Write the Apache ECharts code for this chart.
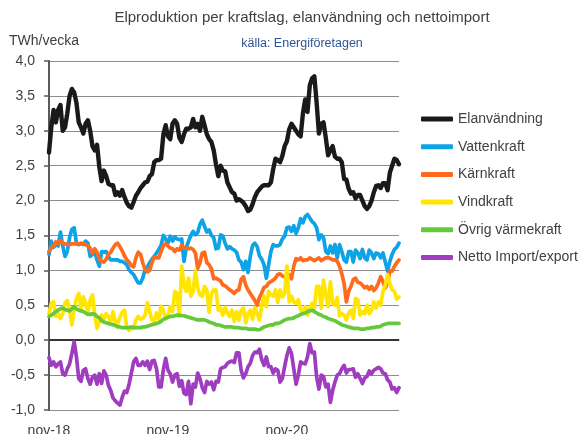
<!DOCTYPE html>
<html><head><meta charset="utf-8">
<script src="https://cdn.jsdelivr.net/npm/echarts@6/dist/echarts.min.js"></script>
<style>html,body{margin:0;padding:0;background:#fff}#c{width:581px;height:434px}</style>
</head><body><div id="c"></div>
<script>
// Weekly values, TWh/vecka, from week 44 2018
const elanvandning = [2.69,3.05,3.30,3.12,3.30,3.37,3.00,3.05,3.25,3.50,3.60,3.55,3.40,3.12,3.05,2.96,3.10,3.15,3.00,2.78,2.72,2.80,2.48,2.28,2.43,2.35,2.24,2.22,2.22,2.08,2.12,2.07,2.15,2.05,1.97,1.92,1.90,1.98,2.07,2.12,2.18,2.22,2.26,2.27,2.35,2.38,2.55,2.58,2.58,2.60,2.95,3.08,2.92,
2.88,3.10,3.15,3.10,2.90,2.84,2.95,3.03,3.03,3.05,3.17,3.05,3.10,3.00,3.20,3.08,2.95,2.88,2.84,2.72,2.52,2.35,2.50,2.43,2.42,2.26,2.19,2.12,2.10,2.00,2.02,2.00,1.97,1.92,1.85,1.87,1.95,2.05,2.12,2.16,2.20,2.22,2.22,2.22,2.26,2.45,2.60,2.58,2.55,2.64,
2.78,2.85,3.02,3.10,3.05,3.00,2.95,2.92,3.25,3.45,3.27,3.65,3.75,3.78,3.40,2.96,3.10,3.12,2.90,2.65,2.72,2.78,2.63,2.60,2.60,2.55,2.31,2.30,2.17,2.10,2.12,2.03,2.08,2.08,2.00,1.92,1.88,1.92,2.00,2.12,2.21,2.22,2.18,2.25,2.25,2.15,2.40,2.50,2.60,2.58,2.52];
const vattenkraft = [1.23,1.42,1.33,1.37,1.35,1.55,1.35,1.20,1.27,1.47,1.59,1.61,1.39,1.37,1.39,1.37,1.42,1.39,1.20,1.23,1.27,1.15,1.06,1.27,1.26,1.27,1.20,1.15,1.15,1.15,1.15,1.13,1.13,1.11,1.08,1.01,0.97,0.94,0.88,0.82,0.82,0.89,1.01,1.05,1.11,1.16,1.20,1.25,1.30,1.36,1.50,1.45,1.39,
1.49,1.42,1.48,1.45,1.44,1.45,1.13,1.32,1.42,1.50,1.56,1.51,1.54,1.66,1.72,1.63,1.55,1.58,1.50,1.47,1.31,1.32,1.51,1.49,1.39,1.31,1.34,1.31,1.29,1.26,1.15,1.12,1.01,1.13,0.97,1.20,1.36,1.39,1.34,1.21,1.16,1.08,0.89,1.08,1.27,1.37,1.35,1.35,1.37,
1.45,1.49,1.61,1.62,1.56,1.64,1.53,1.61,1.74,1.68,1.77,1.80,1.75,1.70,1.67,1.61,1.44,1.51,1.47,1.27,1.24,1.35,1.25,1.37,1.18,1.37,1.27,1.15,1.12,1.27,1.27,1.12,1.29,1.25,1.17,1.30,1.18,1.15,1.29,1.25,1.17,1.25,1.24,1.18,1.25,1.12,0.99,1.13,1.23,1.30,1.33,1.39];
const karnkraft = [1.27,1.32,1.35,1.41,1.38,1.43,1.39,1.38,1.37,1.37,1.38,1.38,1.38,1.38,1.38,1.38,1.37,1.35,1.32,1.25,1.31,1.26,1.16,1.13,1.12,1.16,1.23,1.26,1.32,1.37,1.39,1.34,1.28,1.21,1.15,1.12,1.07,1.05,1.18,1.26,1.23,1.11,1.01,0.98,1.00,1.11,1.19,1.18,1.18,1.27,1.36,1.38,1.35,
1.32,1.31,1.27,1.31,1.29,1.36,1.32,1.32,1.31,1.32,1.30,1.25,1.03,1.11,1.25,1.26,1.11,1.08,1.02,0.88,0.89,0.87,0.85,0.79,0.78,0.75,0.72,0.70,0.67,0.71,0.72,0.87,0.91,0.79,0.72,0.67,0.62,0.57,0.50,0.61,0.68,0.76,0.77,0.82,0.84,0.86,0.89,0.94,0.95,0.92,0.91,0.87,0.94,
0.88,1.06,1.17,1.15,1.18,1.14,1.15,1.15,1.18,1.16,1.14,1.16,1.18,1.14,1.16,1.18,1.18,1.17,1.15,1.15,1.13,1.06,0.95,0.81,0.55,0.70,0.77,0.87,0.89,0.83,0.82,0.79,0.75,0.77,0.73,0.77,0.71,0.75,0.82,0.91,0.84,0.75,0.82,0.99,0.99,1.06,1.11,1.15];
const vindkraft = [0.38,0.53,0.55,0.34,0.38,0.31,0.38,0.53,0.57,0.43,0.22,0.43,0.60,0.67,0.46,0.62,0.53,0.39,0.58,0.65,0.36,0.17,0.26,0.36,0.30,0.38,0.34,0.26,0.41,0.26,0.23,0.33,0.40,0.43,0.19,0.14,0.17,0.17,0.29,0.34,0.30,0.31,0.36,0.54,0.41,0.29,0.26,0.39,0.30,0.49,0.43,0.31,0.35,
0.48,0.41,0.70,0.67,0.34,1.06,0.79,0.70,0.89,0.63,0.70,1.00,0.75,0.65,0.63,0.77,0.72,0.40,0.67,0.72,0.72,0.43,0.46,0.36,0.47,0.39,0.34,0.43,0.27,0.41,0.29,0.43,0.46,0.25,0.38,0.43,0.30,0.47,0.38,0.29,0.50,0.63,0.48,0.70,0.65,0.63,0.72,0.54,0.72,
0.62,0.67,1.06,0.55,0.63,0.55,0.53,0.58,0.43,0.41,0.48,0.36,0.46,0.53,0.46,0.77,0.77,0.46,0.86,0.65,0.48,0.84,0.53,0.50,0.61,0.35,0.38,0.36,0.29,0.39,0.43,0.31,0.60,0.58,0.36,0.41,0.38,0.50,0.38,0.43,0.55,0.46,0.55,0.50,0.70,0.79,0.94,0.82,0.72,0.70,0.59,0.62];
const ovrigVarmekraft = [0.34,0.36,0.38,0.41,0.43,0.45,0.46,0.44,0.43,0.42,0.45,0.48,0.45,0.43,0.42,0.41,0.39,0.37,0.37,0.38,0.37,0.34,0.32,0.28,0.26,0.25,0.24,0.23,0.22,0.21,0.19,0.19,0.18,0.18,0.18,0.18,0.19,0.18,0.18,0.18,0.18,0.19,0.19,0.20,0.21,0.22,0.23,0.24,0.25,0.27,0.30,0.31,0.33,
0.34,0.34,0.35,0.36,0.36,0.35,0.35,0.34,0.33,0.32,0.31,0.30,0.29,0.29,0.29,0.29,0.28,0.26,0.25,0.24,0.22,0.22,0.21,0.20,0.19,0.19,0.19,0.19,0.18,0.18,0.18,0.17,0.17,0.17,0.16,0.16,0.16,0.16,0.15,0.15,0.17,0.19,0.20,0.21,0.22,0.22,0.24,0.24,0.25,0.27,0.29,0.30,0.31,
0.31,0.32,0.34,0.35,0.37,0.38,0.39,0.41,0.42,0.43,0.41,0.39,0.37,0.36,0.34,0.33,0.31,0.30,0.29,0.28,0.26,0.24,0.22,0.21,0.20,0.19,0.18,0.17,0.17,0.17,0.16,0.16,0.16,0.17,0.17,0.18,0.18,0.19,0.19,0.20,0.22,0.23,0.24,0.24,0.24,0.24,0.24,0.24];
const nettoImportExport = [-0.25,-0.36,-0.31,-0.38,-0.34,-0.31,-0.48,-0.50,-0.41,-0.34,-0.19,-0.02,-0.24,-0.55,-0.59,-0.43,-0.41,-0.55,-0.63,-0.53,-0.50,-0.63,-0.48,-0.62,-0.44,-0.50,-0.65,-0.72,-0.83,-0.87,-0.90,-0.93,-0.82,-0.73,-0.75,-0.63,-0.47,-0.31,-0.26,-0.36,-0.36,-0.31,-0.36,-0.30,-0.42,-0.30,-0.29,-0.41,-0.67,-0.67,-0.42,-0.26,-0.43,
-0.48,-0.60,-0.50,-0.48,-0.66,-0.58,-0.76,-0.78,-0.59,-0.91,-0.63,-0.67,-0.47,-0.55,-0.68,-0.75,-0.59,-0.63,-0.60,-0.71,-0.59,-0.60,-0.41,-0.39,-0.38,-0.33,-0.31,-0.30,-0.32,-0.18,-0.18,-0.43,-0.54,-0.48,-0.38,-0.33,-0.22,-0.17,-0.18,-0.13,-0.28,-0.36,-0.24,-0.38,-0.38,-0.47,-0.41,-0.43,-0.60,
-0.55,-0.38,-0.22,-0.11,-0.19,-0.41,-0.63,-0.50,-0.31,-0.33,-0.34,-0.24,-0.05,-0.18,-0.17,-0.53,-0.70,-0.50,-0.52,-0.67,-0.63,-0.89,-0.72,-0.60,-0.50,-0.48,-0.41,-0.36,-0.47,-0.42,-0.42,-0.41,-0.53,-0.48,-0.55,-0.62,-0.54,-0.52,-0.44,-0.48,-0.43,-0.41,-0.39,-0.41,-0.47,-0.48,-0.57,-0.60,-0.70,-0.68,-0.75,-0.68];

const seriesNames = ['Elanvändning','Vattenkraft','Kärnkraft','Vindkraft','Övrig värmekraft','Netto Import/export'];
const xTickLabels = ['nov-18','nov-19','nov-20'];
const xTickIndex = [0, 52, 104];
const weeks = elanvandning.map((_, i) => 'v' + i);

const allData = [elanvandning, vattenkraft, karnkraft, vindkraft, ovrigVarmekraft, nettoImportExport];
const colors = ['#1a1a1a','#0ea2e6','#ff6a1c','#ffe500','#66c93a','#a03cc0'];
const widths = [4.4, 3.7, 3.7, 3.7, 3.7, 3.7];

const chart = echarts.init(document.getElementById('c'), null, {renderer: 'canvas'});
const FONT = '"Liberation Sans", Arial, sans-serif';

const series = allData.map((d, k) => ({
  name: seriesNames[k], type: 'line', data: d, showSymbol: false, symbol: 'none',
  lineStyle: {color: colors[k], width: widths[k], join: 'round', cap: 'round'},
  itemStyle: {color: colors[k]}, z: 3 + k
}));
series[5].markLine = {
  silent: true, symbol: ['none','none'], label: {show: false}, animation: false,
  lineStyle: {color: '#333333', width: 2, type: 'solid'},
  data: [{yAxis: 0}]
};

chart.setOption({
  animation: false,
  backgroundColor: '#ffffff',
  grid: {left: 49, right: 182, top: 61, bottom: 24, containLabel: false, outerBoundsMode: 'none'},
  xAxis: {
    type: 'category', data: weeks, boundaryGap: false,
    axisLine: {show: true, lineStyle: {color: '#8c8c8c', width: 1.5}},
    axisTick: {show: false},
    axisLabel: {
      margin: 14, color: '#404040', fontFamily: FONT, fontSize: 14,
      interval: (idx) => xTickIndex.indexOf(idx) >= 0,
      formatter: (v, idx) => { const p = xTickIndex.indexOf(idx); return p >= 0 ? xTickLabels[p] : ''; }
    },
    splitLine: {show: false}
  },
  yAxis: {
    type: 'value', min: -1, max: 4, interval: 0.5,
    axisLine: {show: true, lineStyle: {color: '#595959', width: 2}},
    axisTick: {show: true, length: 5, lineStyle: {color: '#595959', width: 1.5}},
    axisLabel: {margin: 14, color: '#404040', fontFamily: FONT, fontSize: 14,
      formatter: v => v.toFixed(1).replace('.', ',')},
    splitLine: {show: true, lineStyle: {color: '#8c8c8c', width: 1}}
  },
  legend: {
    orient: 'vertical', left: 416, top: 107, itemWidth: 32, itemHeight: 5, itemGap: 13.7,
    icon: 'roundRect', data: seriesNames,
    textStyle: {color: '#404040', fontFamily: FONT, fontSize: 14}
  },
  graphic: [
    {type: 'text', x: 302, y: 18, style: {text: 'Elproduktion per kraftslag, elanvändning och nettoimport',
      fill: '#404040', font: '15px ' + FONT, align: 'center', verticalAlign: 'middle', textAlign: 'center', textVerticalAlign: 'middle'}},
    {type: 'text', x: 302, y: 44, style: {text: 'källa: Energiföretagen',
      fill: '#2e5597', font: '12.5px ' + FONT, align: 'center', verticalAlign: 'middle', textAlign: 'center', textVerticalAlign: 'middle'}},
    {type: 'text', x: 44, y: 41, style: {text: 'TWh/vecka',
      fill: '#404040', font: '14px ' + FONT, align: 'center', verticalAlign: 'middle', textAlign: 'center', textVerticalAlign: 'middle'}}
  ],
  series: series
});
</script></body></html>
